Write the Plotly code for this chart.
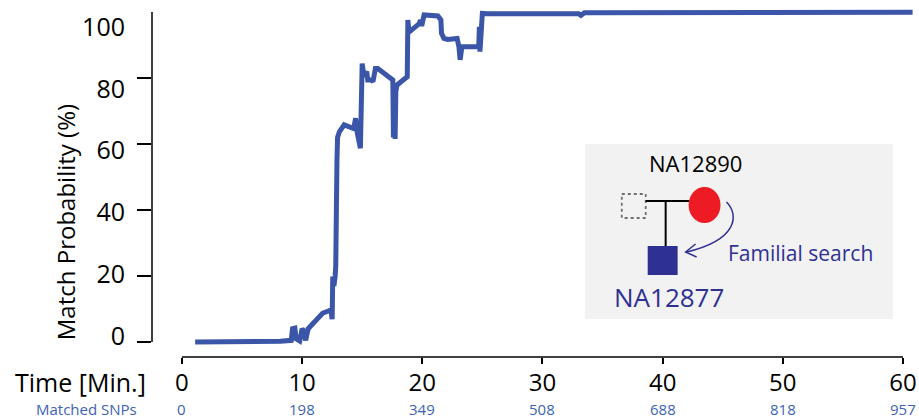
import plotly.graph_objects as go

# ---- data ----
time_min = [1.1, 7.6, 8.2, 9.1, 9.2, 9.4, 9.5, 9.8, 10.0, 10.1, 10.3, 10.5, 11.7, 12.4, 12.5,
            12.55, 12.65, 12.75, 12.8, 12.9, 12.95, 13.1, 13.5, 14.3, 14.45, 14.6, 14.85,
            15.0, 15.15, 15.38, 15.46, 15.75, 15.9, 16.1, 16.3, 17.55, 17.6, 17.68, 17.74,
            17.8, 17.9, 18.75, 18.8, 18.9, 19.2, 19.5, 19.75, 19.85, 19.95, 20.15, 20.4,
            21.3, 21.55, 21.6, 21.8, 22.1, 22.9, 23.05, 23.15, 23.3, 24.7, 24.75, 24.8,
            24.9, 25.0, 25.4, 33.0, 33.2, 33.5, 60.8]
match_prob = [0.0, 0.0, 0.2, 0.5, 4.0, 4.2, 1.0, 0.3, 4.0, 3.5, 0.5, 4.0, 8.7, 9.7, 6.9,
              19.8, 17.0, 20.0, 23.0, 55.0, 62.0, 63.7, 65.8, 64.7, 67.8, 63.2, 58.7,
              84.4, 80.4, 82.0, 79.4, 79.4, 78.9, 82.9, 82.9, 79.4, 62.0, 78.0, 61.5,
              76.0, 77.9, 80.4, 97.6, 93.9, 94.9, 96.1, 96.5, 97.6, 95.8, 99.1, 99.1,
              98.8, 97.6, 93.5, 92.0, 91.7, 92.0, 89.5, 85.5, 89.5, 89.5, 95.5, 88.0,
              93.5, 99.6, 99.5, 99.5, 99.0, 99.8, 99.9]

x_ticks = [0, 10, 20, 30, 40, 50, 60]
snp_labels = ["0", "198", "349", "508", "688", "818", "957"]
y_ticks = [0, 20, 40, 60, 80, 100]
y_tick_text = ["0", "20", "40", "60", "80", "100"]

LINE_COLOR = "#3b56a8"
NAVY = "#2e3192"
SNP_COLOR = "#3d63b5"
FONT = "Open Sans"

# plot-area geometry in pixels
L, R, T, B = 152, 917, 7, 357
W, H = R - L, B - T


def px(x):
    return (x - L) / W


def py(y):
    return (B - y) / H


fig = go.Figure()
fig.add_trace(go.Scatter(x=time_min, y=match_prob, mode="lines",
                         line=dict(color=LINE_COLOR, width=5),
                         showlegend=False, hoverinfo="skip"))
fig.add_trace(go.Scatter(x=[None], y=[None], yaxis="y2", showlegend=False,
                         hoverinfo="skip"))

fig.update_layout(
    width=919, height=419,
    margin=dict(l=L, r=919 - R, t=T, b=419 - B),
    paper_bgcolor="white", plot_bgcolor="white",
    font=dict(family=FONT, color="black"),
    xaxis=dict(range=[-2.49, 61.0], tickvals=x_ticks, ticktext=[str(v) for v in x_ticks],
               ticks="outside", ticklen=6, tickwidth=1.5, tickcolor="black",
               showline=False, showgrid=False, zeroline=False,
               ticklabeloverflow="allow", ticklabelstandoff=-2,
               tickfont=dict(size=24, family=FONT, color="black")),
    yaxis=dict(range=[-4.55, 101.52], tickvals=y_ticks[:-1], showticklabels=False,
               ticks="outside", ticklen=14, tickwidth=1.5, tickcolor="black",
               showline=False, showgrid=False, zeroline=False),
    yaxis2=dict(range=[-6.80, 106.47], overlaying="y", side="left", anchor="x",
                tickvals=y_ticks, ticktext=y_tick_text, ticks="",
                showline=False, showgrid=False, zeroline=False,
                ticklabelstandoff=26, ticklabeloverflow="allow",
                tickfont=dict(size=25, family=FONT, color="black")),
)

# axis lines
fig.add_shape(type="line", xref="x", yref="paper", x0=x_ticks[0], x1=x_ticks[-1],
              y0=0, y1=0, line=dict(color="black", width=1.5))
fig.add_shape(type="line", xref="paper", yref="y", x0=0, x1=0,
              y0=y_ticks[0], y1=y_ticks[-1], line=dict(color="black", width=1.5))

# axis titles / labels
fig.add_annotation(text="Match Probability (%)", xref="paper", yref="paper",
                   x=px(65), y=py(222), textangle=-90, showarrow=False,
                   xanchor="center", yanchor="middle",
                   font=dict(size=24, family=FONT, color="black"))
fig.add_annotation(text="Time [Min.]", xref="paper", yref="paper",
                   x=px(147), y=py(382), showarrow=False,
                   xanchor="right", yanchor="middle", borderpad=0,
                   font=dict(size=25, family=FONT, color="black"))
fig.add_annotation(text="Matched SNPs", xref="paper", yref="paper",
                   x=px(138), y=py(409), showarrow=False,
                   xanchor="right", yanchor="middle", borderpad=0,
                   font=dict(size=15, family=FONT, color=SNP_COLOR))
for xv, lab in zip(x_ticks, snp_labels):
    fig.add_annotation(text=lab, xref="x", yref="paper", x=xv, y=py(409),
                       showarrow=False, xanchor="center", yanchor="middle", borderpad=0,
                       font=dict(size=15, family=FONT, color=SNP_COLOR))

# ---- inset pedigree ----
def rect(x0, y0, x1, y1, **kw):
    fig.add_shape(type="rect", xref="paper", yref="paper",
                  x0=px(x0), x1=px(x1), y0=py(y0), y1=py(y1), **kw)


def seg(x0, y0, x1, y1, **kw):
    fig.add_shape(type="line", xref="paper", yref="paper",
                  x0=px(x0), x1=px(x1), y0=py(y0), y1=py(y1), **kw)


rect(586, 144, 895, 319, fillcolor="#f2f2f2", line=dict(width=0), layer="below")
rect(623, 194, 647, 218, fillcolor="rgba(0,0,0,0)",
     line=dict(color="#6f6f6f", width=1.8, dash="dot"))
seg(647, 201, 691, 201, line=dict(color="black", width=2))
seg(667, 201, 667, 246, line=dict(color="black", width=2))
rect(649, 246, 679, 275, fillcolor=NAVY, line=dict(width=0))
fig.add_shape(type="circle", xref="paper", yref="paper",
              x0=px(690), x1=px(722), y0=py(187), y1=py(223),
              fillcolor="#ed1c24", line=dict(width=0))


def P(x, y):
    return f"{px(x):.5f},{py(y):.5f}"


fig.add_shape(type="path", xref="paper", yref="paper",
              path=f"M {P(728, 202)} C {P(741, 215)} {P(739, 240)} {P(688, 252)}",
              line=dict(color=NAVY, width=1.5))
fig.add_shape(type="path", xref="paper", yref="paper",
              path=f"M {P(697, 244)} L {P(687, 252)} L {P(698, 257)}",
              line=dict(color=NAVY, width=1.5))

fig.add_annotation(text="NA12890", xref="paper", yref="paper", x=px(697), y=py(163),
                   showarrow=False, xanchor="center", yanchor="middle",
                   font=dict(size=22, family=FONT, color="black"))
fig.add_annotation(text="NA12877", xref="paper", yref="paper", x=px(670), y=py(297),
                   showarrow=False, xanchor="center", yanchor="middle",
                   font=dict(size=26, family=FONT, color=NAVY))
fig.add_annotation(text="Familial search", xref="paper", yref="paper", x=px(802), y=py(253),
                   showarrow=False, xanchor="center", yanchor="middle",
                   font=dict(size=21, family=FONT, color=NAVY))

fig.write_html("out.html", config={"displayModeBar": False},
               post_script="document.body.style.margin='0';document.body.style.padding='0';")
